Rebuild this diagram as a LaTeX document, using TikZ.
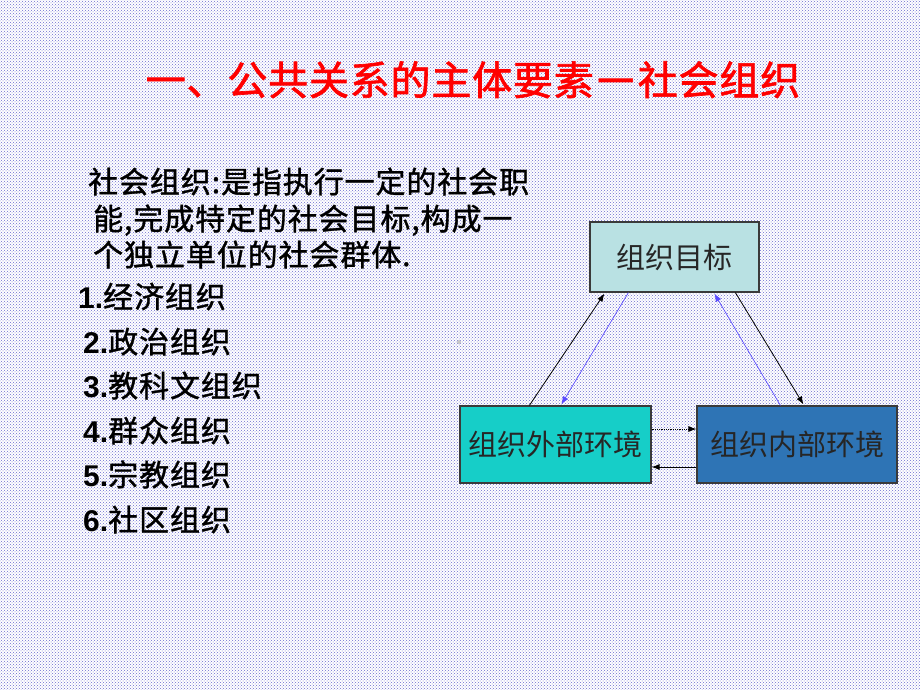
\documentclass[tikz,border=0pt]{standalone}
\usepackage{fontspec}
\newfontfamily\cjk{Noto Sans CJK SC}
\newfontfamily\cjkb[FakeBold=1.2,LetterSpace=3]{Noto Sans CJK SC}
\newfontfamily\cjkt[FakeBold=1.6,LetterSpace=2]{Noto Sans CJK SC}
\newfontfamily\lat{Liberation Sans}
\usetikzlibrary{calc,patterns,arrows.meta}
\definecolor{dotblue}{HTML}{6C6CCF}
\definecolor{goalfill}{HTML}{B9E1E3}
\definecolor{extfill}{HTML}{16CEC8}
\definecolor{intfill}{HTML}{2E74B5}
\definecolor{bordergray}{HTML}{3A3A3A}
\definecolor{titlered}{HTML}{FF0000}
\definecolor{arrowblue}{HTML}{5A4BFF}
\tikzset{
  box/.style={draw=bordergray, line width=1.2pt, inner sep=0pt, anchor=center,
    font=\cjk\fontsize{29}{29}\selectfont, text=black!85},
  bodytext/.style={anchor=base west, inner sep=0pt, font=\cjkb\fontsize{30}{30}\selectfont, text=black},
  blk/.style={draw=black, line width=0.8pt, -{Latex[length=8pt,width=6pt]}},
  blu/.style={draw=arrowblue, line width=0.6pt, -{Latex[length=8pt,width=6pt]}, fill=arrowblue},
}
\begin{document}
\begin{tikzpicture}[x=1pt,y=-1pt]
\useasboundingbox (0,0) rectangle (920,690);
\fill[white] (0,0) rectangle (920,690);
\fill[pattern=crosshatch dots, pattern color=dotblue] (0,0) rectangle (920,690);

\node[anchor=base, inner sep=0pt, text=titlered, font=\cjkt\fontsize{40}{40}\selectfont] (title) at (473,95) {一、公共关系的主体要素\makebox[1.1em][c]{\scalebox{1.05}[1.3]{—}}社会组织};

\node[bodytext] (l1) at (88,193) {社会组织:是指执行一定的社会职};
\node[bodytext] (l2) at (93,230) {能,完成特定的社会目标,构成一};
\node[bodytext] (l3) at (93,266) {个独立单位的社会群体.};

\node[bodytext] (i1) at (78,308) {{\lat\bfseries 1.}经济组织};
\node[bodytext] (i2) at (83,353) {{\lat\bfseries 2.}政治组织};
\node[bodytext] (i3) at (83,397) {{\lat\bfseries 3.}教科文组织};
\node[bodytext] (i4) at (83,442) {{\lat\bfseries 4.}群众组织};
\node[bodytext] (i5) at (83,486) {{\lat\bfseries 5.}宗教组织};
\node[bodytext] (i6) at (83,531) {{\lat\bfseries 6.}社区组织};

\node[box, fill=goalfill, minimum width=169pt, minimum height=70pt] (goal) at (674.5,257) {组织目标};
\node[box, fill=extfill, minimum width=191pt, minimum height=77pt] (ext) at (555.5,444.5) {组织外部环境};
\node[box, fill=intfill, minimum width=200pt, minimum height=77pt] (int) at (797,444.5) {组织内部环境};

\draw[blk] ($(ext.north west)+(70,0)$) -- ($(goal.south west)+(15,1)$);
\draw[blu] ($(goal.south west)+(39,0)$) -- ($(ext.north west)+(102,-1)$);
\draw[blk] ($(goal.south west)+(146,0)$) -- ($(int.north west)+(107,-1)$);
\draw[blu] ($(int.north west)+(84,0)$) -- ($(goal.south west)+(125,1)$);
\draw[blk, densely dotted] ($(ext.east)+(0,-15.5)$) -- ($(int.west)+(0,-15.5)$);
\draw[blk] ($(int.west)+(0,22.5)$) -- ($(ext.east)+(0,22.5)$);

\fill[gray!45] (459,342) circle (2);
\end{tikzpicture}
\end{document}
